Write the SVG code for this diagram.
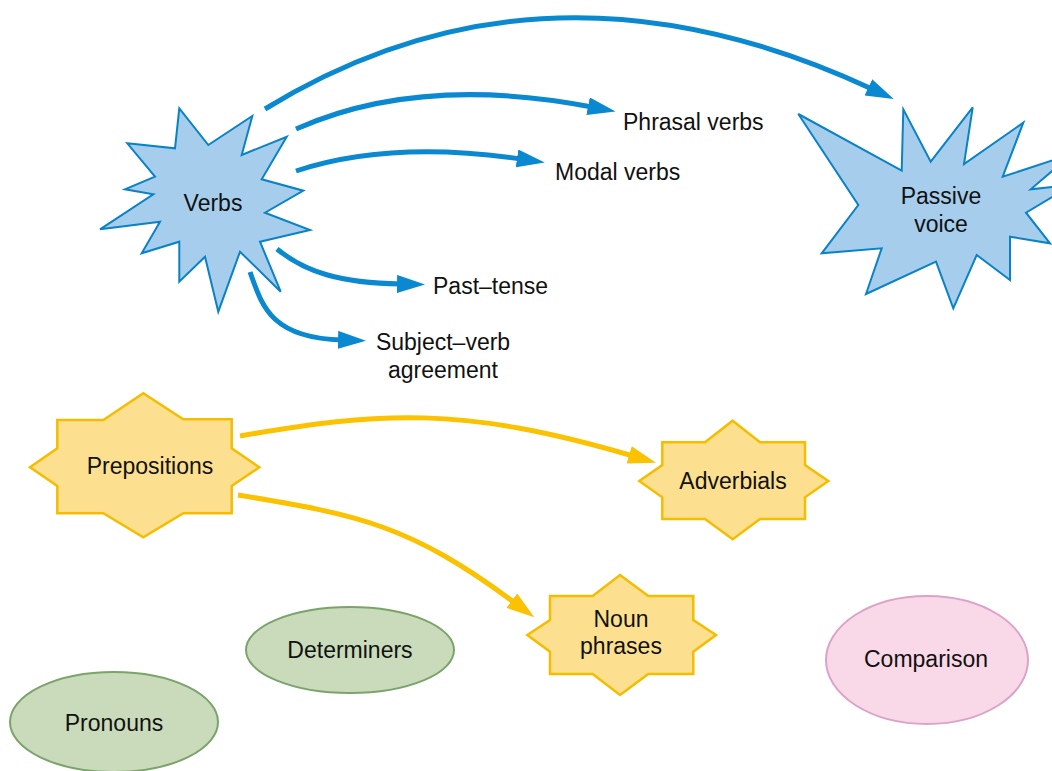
<svg xmlns="http://www.w3.org/2000/svg" width="1052" height="771" viewBox="0 0 1052 771">
<style>
.t{font-family:"Liberation Sans",Arial,Helvetica,sans-serif;font-size:23px;fill:#111;}
.m{text-anchor:middle;}
.bs{fill:#a6cdec;stroke:#0a82c6;stroke-width:2;stroke-linejoin:miter;}
.ys{fill:#fde08f;stroke:#f5bd00;stroke-width:2.5;}
.ge{fill:#c9dbbb;stroke:#7ba36c;stroke-width:2;}
.pe{fill:#f9d9e7;stroke:#dba3c9;stroke-width:2;}
.bl{fill:none;stroke:#0a88d0;stroke-width:5;}
.yl{fill:none;stroke:#fac200;stroke-width:5;}
</style>
<defs>
<marker id="ab" markerUnits="userSpaceOnUse" markerWidth="30" markerHeight="20" refX="4" refY="9" orient="auto"><path d="M0,0 L28,9 L0,18 z" fill="#0a88d0"/></marker>
<marker id="ay" markerUnits="userSpaceOnUse" markerWidth="30" markerHeight="20" refX="4" refY="9" orient="auto"><path d="M0,0 L28,9 L0,18 z" fill="#fac200"/></marker>
</defs>
<g id="connectors">
<path class="bl" d="M265,109 Q545,-63 872,89" marker-end="url(#ab)"/>
<path class="bl" d="M296,129 Q420,74 592,107" marker-end="url(#ab)"/>
<path class="bl" d="M296,171 Q390,140 521,159" marker-end="url(#ab)"/>
<path class="bl" d="M277,249 C305,272 340,283 401,284" marker-end="url(#ab)"/>
<path class="bl" d="M250,272 C262,305 270,338 342,340" marker-end="url(#ab)"/>
<path class="yl" d="M240,436 C380,412 460,405 633,456" marker-end="url(#ay)"/>
<path class="yl" d="M238,495 C360,515 410,525 515,603" marker-end="url(#ay)"/>
</g>
<g id="verbs">
<polygon class="bs" points="179.3,108.3 208.3,145 252.3,116 241.7,155 286.7,136.7 261.7,179.3 303.3,190.7 265,212.7 310,230 260,241.7 280.7,291.7 240,251.7 218.3,311.7 205,256.7 179.3,281.7 179.3,241.7 141.7,253.3 160,221.7 100,229.3 153.3,194.3 125,189.3 155,176.7 127.3,143.3 175,148.3"/>
<text class="t m" x="213" y="211">Verbs</text>
</g>
<g id="passive-voice">
<polygon class="bs" points="798.3,114 901.7,170.7 903.3,109.3 930.7,161.7 972.7,107.3 964,164 1023.3,122.7 1002.7,176.7 1072,154 1030.7,189.3 1072,185 1026,212.7 1050,243.3 1010,236.7 1010,280 976.7,255 953.3,308.3 936,261.7 866,294 881.7,248.3 821.7,253.3 858.3,205"/>
<text class="t m" x="941" y="204">Passive</text>
<text class="t m" x="941" y="232">voice</text>
</g>
<g id="phrasal-verbs"><text class="t" x="623" y="130">Phrasal verbs</text></g>
<g id="modal-verbs"><text class="t" x="555" y="180">Modal verbs</text></g>
<g id="past-tense"><text class="t" x="433" y="294">Past–tense</text></g>
<g id="subject-verb-agreement">
<text class="t m" x="443" y="350">Subject–verb</text>
<text class="t m" x="443" y="378">agreement</text>
</g>
<g id="prepositions">
<polygon class="ys" points="143.3,393.3 183.3,419.3 231.7,419.3 231.7,448.3 259.3,467.3 231.7,486 231.7,513.3 183.3,513.3 143.3,537.3 103.3,513.3 57.3,513.3 57.3,486 30,467.3 57.3,448.3 57.3,420 103.3,420"/>
<text class="t m" x="150" y="474">Prepositions</text>
</g>
<g id="adverbials">
<polygon class="ys" points="732.7,420.7 760,442.3 805,442.3 805,465 828.3,481 805,497.3 805,519 760,519 732.7,539.3 705,519 662.3,519 662.3,497.3 639.3,481 662.3,465 662.3,442.3 705,442.3"/>
<text class="t m" x="733" y="489">Adverbials</text>
</g>
<g id="noun-phrases">
<polygon class="ys" points="620,575 648.3,596 693.3,596 693.3,620 716,635 693.3,651.7 693.3,674 648.3,674 620,695 592.7,674 550,674 550,651.7 527.3,635 550,620 550,596 592.7,596"/>
<text class="t m" x="621" y="627">Noun</text>
<text class="t m" x="621" y="654">phrases</text>
</g>
<g id="determiners">
<ellipse class="ge" cx="350" cy="650" rx="104" ry="43"/>
<text class="t m" x="350" y="658">Determiners</text>
</g>
<g id="pronouns">
<ellipse class="ge" cx="114" cy="722" rx="104" ry="50"/>
<text class="t m" x="114" y="731">Pronouns</text>
</g>
<g id="comparison">
<ellipse class="pe" cx="927" cy="660" rx="101" ry="64"/>
<text class="t m" x="926" y="667">Comparison</text>
</g>
</svg>
